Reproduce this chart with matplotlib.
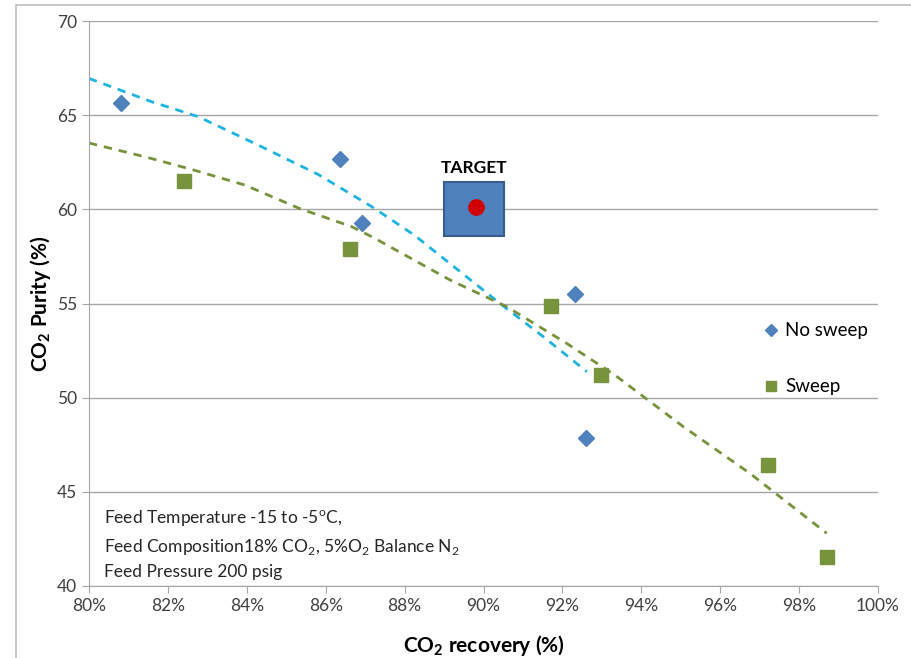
import matplotlib
matplotlib.use("Agg")
import matplotlib.pyplot as plt
from matplotlib.patches import Rectangle

plt.rcParams['font.family'] = ['Lato', 'DejaVu Sans']
plt.rcParams['mathtext.fontset'] = 'custom'
plt.rcParams['mathtext.rm'] = 'Lato'
plt.rcParams['mathtext.bf'] = 'Lato:bold'

# recovery (%) and purity (%)
no_sweep_x = [80.81, 86.35, 86.91, 92.33, 92.61]
no_sweep_y = [65.65, 62.67, 59.27, 55.5, 47.85]
sweep_x = [82.41, 86.61, 91.70, 92.99, 97.22, 98.71]
sweep_y = [61.5, 57.89, 54.86, 51.2, 46.42, 41.53]
target_x = 89.8
target_y = 60.1

# trendlines
trend_ns_x = [80.0, 81.59, 82.77, 84.29, 85.81, 87.17, 88.24, 90.42, 91.52, 92.62]
trend_ns_y = [66.95, 65.71, 64.92, 63.41, 61.85, 60.14, 58.64, 55.0, 53.23, 51.38]
trend_sw_x = [80.0, 81.42, 82.60, 83.95, 85.33, 86.66, 87.21, 89.15, 90.59, 92.11, 93.33, 95.07, 96.76, 98.70]
trend_sw_y = [63.52, 62.79, 62.12, 61.29, 60.05, 59.08, 58.5, 56.25, 54.83, 52.88, 51.2, 48.45, 45.97, 42.8]

xticks = [80, 82, 84, 86, 88, 90, 92, 94, 96, 98, 100]
yticks = [40, 45, 50, 55, 60, 65, 70]

fig = plt.figure(figsize=(9.12, 6.58), dpi=100)
ax = fig.add_axes([89 / 912, 1 - 586 / 658, (878 - 89) / 912, (586 - 21) / 658])

# chart frame
fig.patches.append(Rectangle((16 / 912, -0.1), 1.2, 1 - 5 / 658 + 0.1, transform=fig.transFigure,
                             fill=False, edgecolor='#bfbfbf', linewidth=1.2))

ax.set_xlim(80, 100)
ax.set_ylim(40, 70)
ax.set_xticks(xticks)
ax.set_xticklabels(['%d%%' % t for t in xticks])
ax.set_yticks(yticks)
ax.grid(axis='y', color='#a6a6a6', linewidth=1)
ax.set_axisbelow(True)
for s in ['top', 'right']:
    ax.spines[s].set_visible(False)
for s in ['left', 'bottom']:
    ax.spines[s].set_color('#a6a6a6')
ax.tick_params(colors='#a6a6a6', labelcolor='#404040', labelsize=12.5, length=5, direction='out')

ax.plot(trend_ns_x, trend_ns_y, color='#1fb3e0', lw=2, dashes=(3, 2.5))
ax.plot(trend_sw_x, trend_sw_y, color='#77933c', lw=2, dashes=(3, 2.5))

ax.plot(no_sweep_x, no_sweep_y, 'D', color='#4f81bd', ms=8.5, label='No sweep', zorder=4)
ax.plot(sweep_x, sweep_y, 's', color='#77933c', ms=10, label='Sweep', zorder=4)

ax.add_patch(Rectangle((target_x - 0.8, target_y - 1.5), 1.52, 2.85, facecolor='#4f81bd',
                       edgecolor='#385d8a', linewidth=1.5, zorder=5))
ax.plot([target_x], [target_y], 'o', color='#d00000', ms=11, zorder=6)
ax.text(target_x - 0.05, 62.2, 'TARGET', ha='center', va='center', fontsize=12.5,
        fontweight='bold', color='black')

ax.legend(loc='upper left', bbox_to_anchor=(0.835, 0.497), frameon=False, fontsize=13.5,
          handlelength=0.7, handletextpad=0.4, labelspacing=2.1, markerscale=0.75)

ax.text(80.38, 40.3, 'Feed Temperature -15 to -5$^\\mathrm{o}$C,\n'
        'Feed Composition18% CO$_2$, 5%O$_2$ Balance N$_2$\n'
        'Feed Pressure 200 psig', fontsize=12.5, color='#262626', linespacing=1.55, va='bottom')

ax.set_xlabel(r'CO$_\mathbf{2}$ recovery (%)', fontsize=15, fontweight='bold', labelpad=14)
ax.set_ylabel(r'CO$_\mathbf{2}$ Purity (%)', fontsize=15, fontweight='bold', labelpad=3)

fig.savefig('out.png', dpi=100)
